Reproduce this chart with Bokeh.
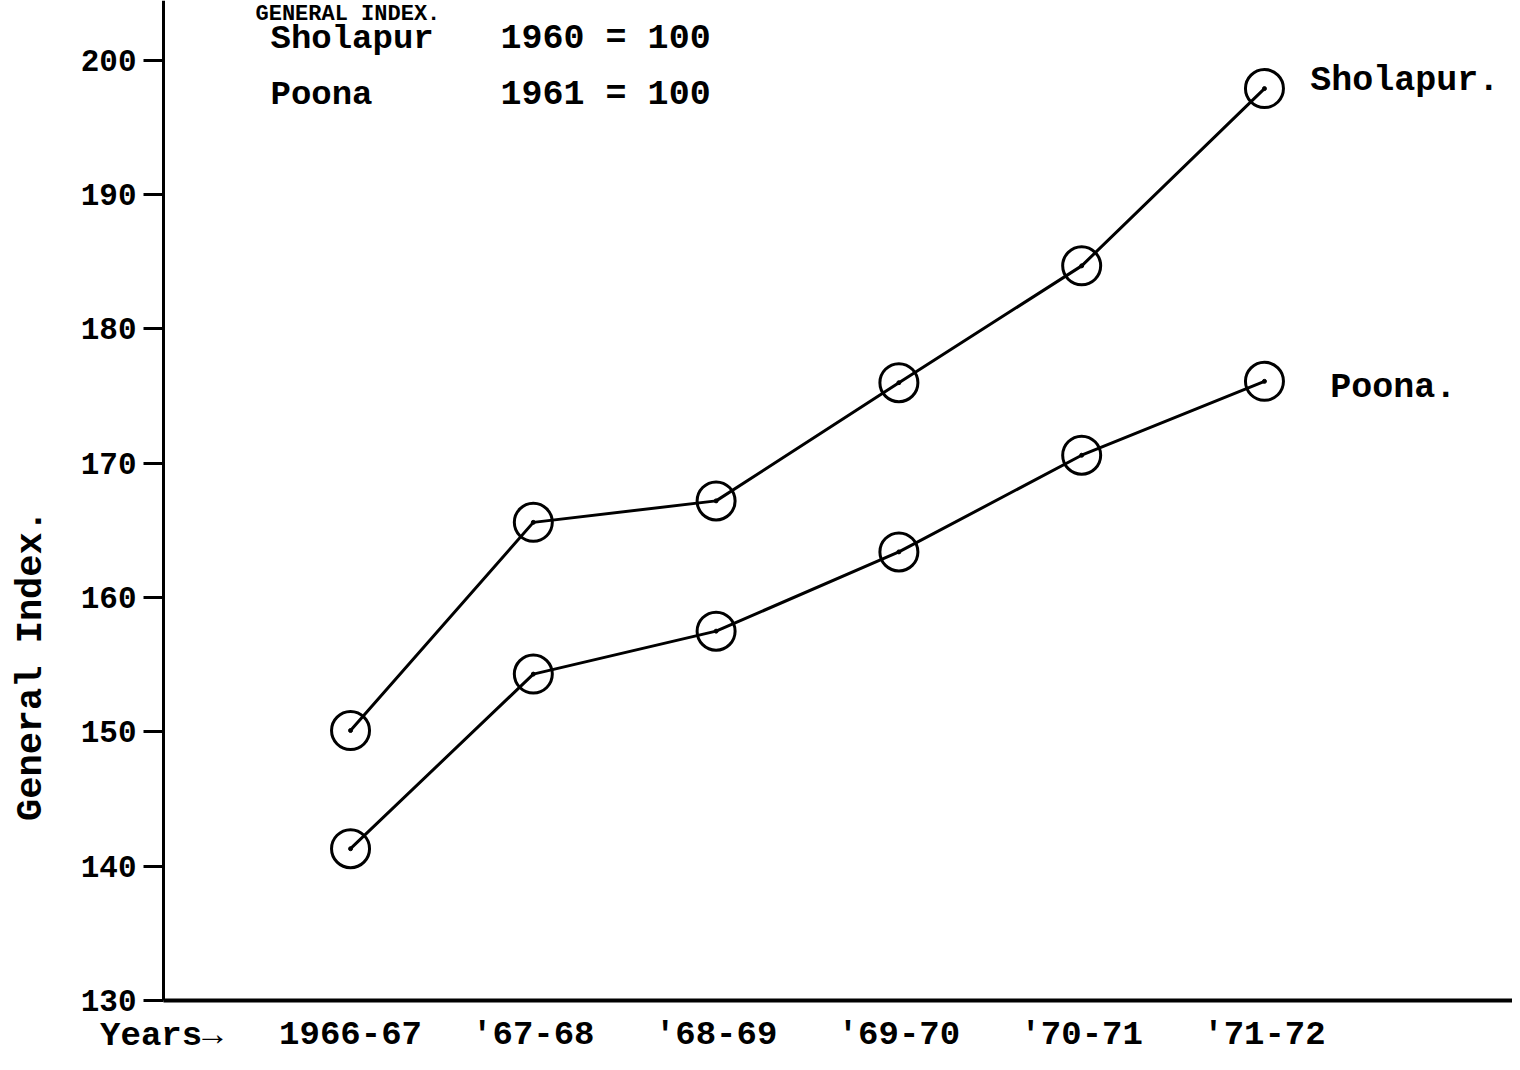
import math
from bokeh.plotting import figure
from bokeh.models import Range1d, FixedTicker
from bokeh.core.properties import value
from bokeh.embed import file_html
from bokeh.resources import INLINE

years = ["1966-67", "'67-68", "'68-69", "'69-70", "'70-71", "'71-72"]
sholapur = [150.1, 165.6, 167.2, 176.0, 184.7, 197.9]
poona = [141.3, 154.3, 157.5, 163.4, 170.6, 176.1]
y_ticks = [130, 140, 150, 160, 170, 180, 190, 200]

FONT = "Liberation Mono"
xs = list(range(len(years)))

X0, X1 = -1.915, 6.357
Y0, Y1 = 125.38, 204.46
XAX = -1.023   # x position of the vertical axis
YAX = 130      # y position of the horizontal axis

p = figure(width=1512, height=1062, output_backend="svg", toolbar_location=None,
           x_range=Range1d(X0, X1), y_range=Range1d(Y0, Y1),
           min_border_left=0, min_border_right=0, min_border_top=0, min_border_bottom=0)
p.outline_line_color = None
p.grid.visible = False
p.background_fill_color = "white"
p.border_fill_color = "white"

# y axis
ya = p.yaxis[0]
ya.fixed_location = XAX
ya.bounds = (YAX, Y1)
ya.ticker = FixedTicker(ticks=y_ticks)
ya.axis_line_width = 3
ya.axis_line_color = "black"
ya.major_tick_line_width = 3
ya.major_tick_line_color = "black"
ya.major_tick_out = 20
ya.major_tick_in = 0
ya.minor_tick_line_color = None
ya.major_label_text_font = FONT
ya.major_label_text_font_style = "bold"
ya.major_label_text_font_size = "31px"
ya.major_label_text_color = "black"
ya.major_label_standoff = 7

# x axis
xa = p.xaxis[0]
xa.fixed_location = YAX
xa.bounds = (XAX, X1)
xa.ticker = FixedTicker(ticks=xs)
xa.major_label_overrides = {i: y for i, y in enumerate(years)}
xa.axis_line_width = 4
xa.axis_line_color = "black"
xa.major_tick_line_color = None
xa.minor_tick_line_color = None
xa.major_label_text_font = FONT
xa.major_label_text_font_style = "bold"
xa.major_label_text_font_size = "34px"
xa.major_label_text_color = "black"
xa.major_label_standoff = 10

for series in (sholapur, poona):
    p.line(xs, series, line_color="black", line_width=3)
    p.scatter(xs, series, marker="circle", size=38, fill_color=None,
              line_color="black", line_width=3)
    p.scatter(xs, series, marker="circle", size=4, fill_color="black", line_color="black")

def txt(x, y, text, size="34px", angle=0.0, align="left", baseline="middle"):
    p.text(x=[x], y=[y], text=[text], angle=angle, text_font=value(FONT),
           text_font_style="bold", text_font_size=size, text_color="black",
           text_align=align, text_baseline=baseline)

txt(-0.52, 203.42, "GENERAL INDEX.", "22px", baseline="alphabetic")
txt(-0.438, 201.63, "Sholapur", "34px")
txt(0.821, 201.63, "1960 = 100", "35px")
txt(-0.438, 197.39, "Poona", "34px")
txt(0.821, 197.39, "1961 = 100", "35px")
txt(5.25, 198.5, "Sholapur.", "35px")
txt(5.36, 175.57, "Poona.", "35px")
txt(-1.37, 127.32, "Years\u2192", "34px", baseline="alphabetic")
txt(-1.75, 154.94, "General Index.", "37px", angle=math.pi / 2, align="center")

open("out.html", "w").write(file_html(p, INLINE))
